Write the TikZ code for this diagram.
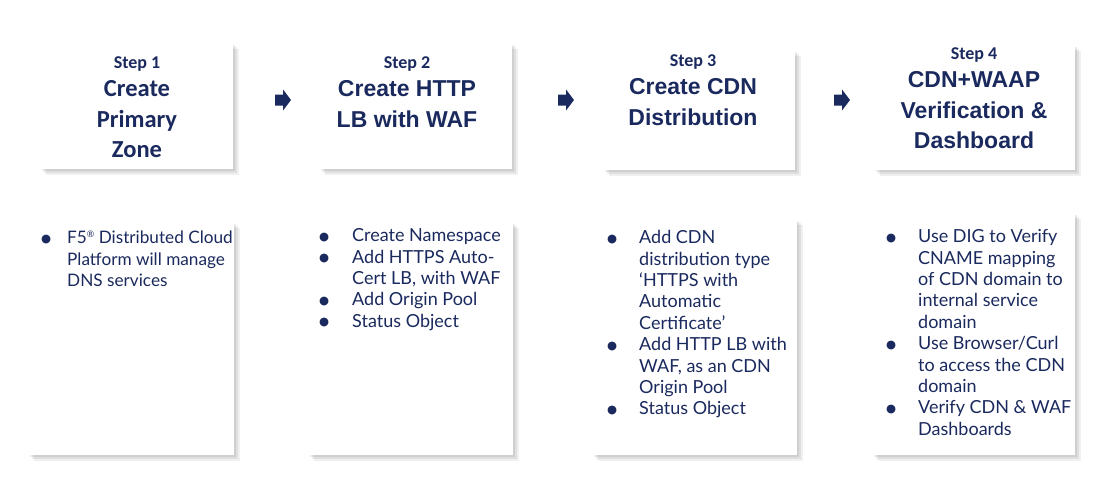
\documentclass[tikz,border=0pt]{standalone}
\usepackage{fontspec}
\setmainfont{Lato}
\newfontfamily\stepfont{Carlito}
\newfontfamily\headfont{Liberation Sans}
\newfontfamily\dotfont{DejaVu Sans}
\usepackage{tikz}
\usetikzlibrary{shadows}
\definecolor{stepnavy}{HTML}{1B2A5E}
\newcommand{\bul}[1]{\strut\makebox[0pt]{\raisebox{1.5pt}{\dotfont\fontsize{11.5}{12}\selectfont ●}}\hspace{#1}}
\newcommand{\ind}[1]{\hspace*{#1}}
\newcommand{\regmark}{\raisebox{6pt}{\fontsize{9}{10}\selectfont ®}}

\begin{document}
\begin{tikzpicture}[x=1pt,y=-1pt,
  card/.style={fill=white,inner sep=0,
    general shadow={shadow xshift=2pt,shadow yshift=-2pt,fill=black,opacity=.07},
    general shadow={shadow xshift=4pt,shadow yshift=-4pt,fill=black,opacity=.07},
    general shadow={shadow xshift=6pt,shadow yshift=-6pt,fill=black,opacity=.06}},
  steplabel/.style={anchor=base,inner sep=0,text=stepnavy,font=\stepfont\bfseries\fontsize{18}{20}\selectfont},
  headline/.style={anchor=north,inner sep=0,align=center,text=stepnavy,font=\headfont\bfseries\fontsize{23}{30.5}\selectfont},
  bullets/.style={anchor=north west,inner sep=0,align=left,text=stepnavy,font=\fontsize{18}{21.4}\selectfont},
  blockarrow/.pic={\fill[stepnavy] (-8,-5.5) -- (0,-5.5) -- (0,-10.5) -- (8,0) -- (0,10.5) -- (0,5.5) -- (-8,5.5) -- cycle;}]
\useasboundingbox (0,0) rectangle (1113,491);

\node[card,minimum width=193pt,minimum height=126pt] (t1) at (136.5,106) {};
\node[card,minimum width=193pt,minimum height=126pt] (t2) at (415.5,106) {};
\node[card,minimum width=192pt,minimum height=120pt] (t3) at (699,110) {};
\node[card,minimum width=201pt,minimum height=125pt] (t4) at (974.5,107.5) {};

\node[card,minimum width=206pt,minimum height=233pt] (b1) at (131,338.5) {};
\node[card,minimum width=205pt,minimum height=233pt] (b2) at (410.5,338.5) {};
\node[card,minimum width=205pt,minimum height=236pt] (b3) at (694.5,337) {};
\node[card,minimum width=203pt,minimum height=242pt] (b4) at (973.5,334) {};

\pic at (283,100) {blockarrow};
\pic at (566,100) {blockarrow};
\pic at (842,100) {blockarrow};

\node[steplabel] (s1) at (137,68) {Step 1};
\node[steplabel] (s2) at (407,68) {Step 2};
\node[steplabel] (s3) at (693,66) {Step 3};
\node[steplabel] (s4) at (974,59) {Step 4};

\node[headline,font=\stepfont\bfseries\fontsize{24.5}{30.5}\selectfont] (h1) at (137,80.5) {Create\\Primary\\Zone};
\node[headline] (h2) at (407,80.5) {Create HTTP\\LB with WAF};
\node[headline] (h3) at (693,78.5) {Create CDN\\Distribution};
\node[headline] (h4) at (974,71.5) {CDN+WAAP\\Verification \&\\Dashboard};

\node[bullets,font=\fontsize{17.2}{21.4}\selectfont] (l1) at (46,228.5) {\bul{21pt}F5\regmark{} Distributed Cloud\\\ind{21pt}Platform will manage\\\ind{21pt}DNS services};
\node[bullets] (l2) at (324,226.5) {\bul{28pt}Create Namespace\\\bul{28pt}Add HTTPS Auto-\\\ind{28pt}Cert LB, with WAF\\\bul{28pt}Add Origin Pool\\\bul{28pt}Status Object};
\node[bullets] (l3) at (612,228.5) {\bul{27pt}Add CDN\\\ind{27pt}distribution type\\\ind{27pt}‘HTTPS with\\\ind{27pt}Automatic\\\ind{27pt}Certificate’\\\bul{27pt}Add HTTP LB with\\\ind{27pt}WAF, as an CDN\\\ind{27pt}Origin Pool\\\bul{27pt}Status Object};
\node[bullets] (l4) at (891,227.5) {\bul{27pt}Use DIG to Verify\\\ind{27pt}CNAME mapping\\\ind{27pt}of CDN domain to\\\ind{27pt}internal service\\\ind{27pt}domain\\\bul{27pt}Use Browser/Curl\\\ind{27pt}to access the CDN\\\ind{27pt}domain\\\bul{27pt}Verify CDN \& WAF\\\ind{27pt}Dashboards};
\end{tikzpicture}
\end{document}
